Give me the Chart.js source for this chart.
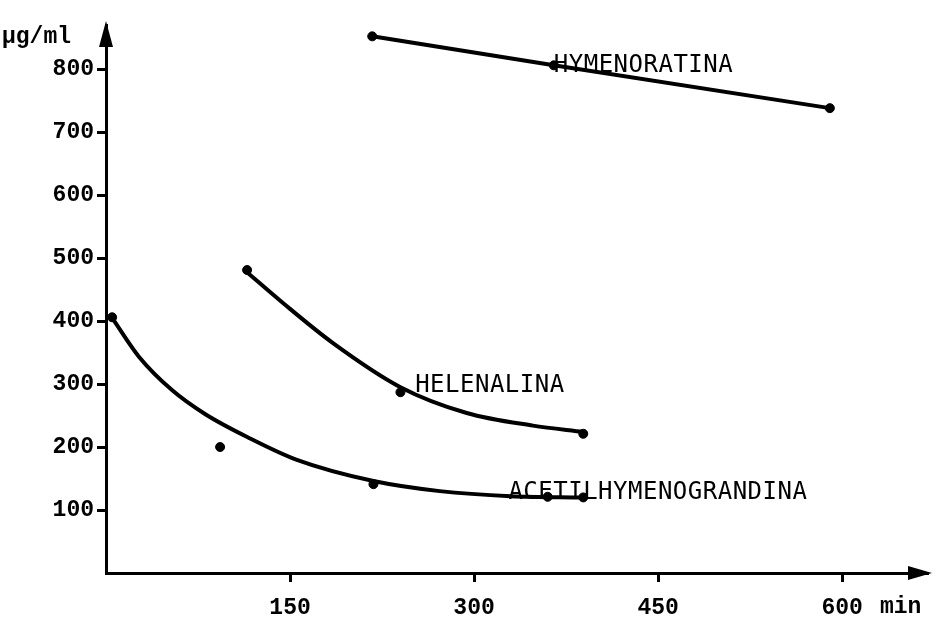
<!DOCTYPE html>
<html>
<head>
<meta charset="utf-8">
<script src="https://cdn.jsdelivr.net/npm/chart.js@4.4.1/dist/chart.umd.min.js"></script>
<style>
  html, body { margin: 0; padding: 0; background: #fff; }
  #wrap { width: 934px; height: 619px; }
</style>
</head>
<body>
<div id="wrap"><canvas id="conc"></canvas></div>
<script>
// tick labels
const xTicks = [150, 300, 450, 600];
const yTicks = [100, 200, 300, 400, 500, 600, 700, 800];

// measured points (min, µg/ml)
const hymenoratina = [{x: 217, y: 852}, {x: 365, y: 806}, {x: 590, y: 738}];
const helenalina = [{x: 115, y: 481}, {x: 240, y: 287}, {x: 389, y: 221}];
const acetilPoints = [{x: 5, y: 406}, {x: 93, y: 200}, {x: 218, y: 141}, {x: 360, y: 121}, {x: 389, y: 120}];

// hand-drawn fitted curves
const helenalinaCurve = [{x: 114, y: 479}, {x: 144, y: 429}, {x: 185, y: 365}, {x: 240, y: 295}, {x: 294, y: 254}, {x: 348, y: 234}, {x: 389, y: 224}];
const acetilCurve = [{x: 5, y: 405}, {x: 27, y: 343}, {x: 54, y: 290}, {x: 81, y: 252}, {x: 117, y: 214}, {x: 155, y: 180}, {x: 218, y: 146}, {x: 272, y: 130}, {x: 330, y: 122}, {x: 389, y: 120}];

// series names, anchored in data units (left edge, middle of text)
const seriesLabels = [
    {text: 'HYMENORATINA', x: 365, y: 806},
    {text: 'HELENALINA', x: 252, y: 298},
    {text: 'ACETILHYMENOGRANDINA', x: 328, y: 127}
];

const monoBold = {family: "'Liberation Mono', 'DejaVu Sans Mono', monospace", size: 23, weight: 'bold'};

// arrows, axis units and series names
const extras = {
    id: 'extras',
    afterDraw(chart) {
        const ctx = chart.ctx;
        const a = chart.chartArea;
        const xs = chart.scales.x, ys = chart.scales.y;
        ctx.save();
        ctx.fillStyle = '#000';
        // y axis arrow
        ctx.beginPath();
        ctx.moveTo(a.left, a.top - 4);
        ctx.lineTo(a.left - 7, a.top + 22);
        ctx.lineTo(a.left + 7, a.top + 22);
        ctx.closePath();
        ctx.fill();
        // x axis arrow
        ctx.beginPath();
        ctx.moveTo(a.right + 4, a.bottom);
        ctx.lineTo(a.right - 20, a.bottom - 7);
        ctx.lineTo(a.right - 20, a.bottom + 7);
        ctx.closePath();
        ctx.fill();

        ctx.font = "bold 23px 'Liberation Mono', 'DejaVu Sans Mono', monospace";
        ctx.textBaseline = 'middle';
        ctx.textAlign = 'left';
        ctx.fillText('µg/ml', 2, a.top + 12);
        ctx.fillText('min', 880, a.bottom + 34);

        ctx.font = "24px 'DejaVu Sans Mono', monospace";
        ctx.letterSpacing = '0.5px';
        seriesLabels.forEach(l => {
            ctx.fillText(l.text, xs.getPixelForValue(l.x), ys.getPixelForValue(l.y));
        });
        ctx.restore();
    }
};

const marker = {showLine: false, backgroundColor: '#000', borderColor: '#000', pointRadius: 4.5, pointBorderWidth: 1, pointStyle: 'circle'};
const curve = {borderColor: '#000', borderWidth: 4, cubicInterpolationMode: 'monotone', pointRadius: 0};

new Chart(document.getElementById('conc'), {
    type: 'line',
    data: {
        datasets: [
            {label: 'HYMENORATINA', data: hymenoratina, borderColor: '#000', backgroundColor: '#000', borderWidth: 4, tension: 0, pointRadius: 4.5, pointBorderWidth: 1},
            {label: 'HELENALINA curve', data: helenalinaCurve, ...curve},
            {label: 'HELENALINA', data: helenalina, ...marker},
            {label: 'ACETILHYMENOGRANDINA curve', data: acetilCurve, ...curve},
            {label: 'ACETILHYMENOGRANDINA', data: acetilPoints, ...marker}
        ]
    },
    options: {
        responsive: true,
        maintainAspectRatio: false,
        animation: false,
        layout: {padding: {top: 25, right: 6, left: 0, bottom: 0}},
        plugins: {
            legend: {display: false},
            tooltip: {enabled: false}
        },
        scales: {
            x: {
                type: 'linear',
                min: 0,
                max: 670,
                afterBuildTicks: s => { s.ticks = xTicks.map(v => ({value: v})); },
                afterFit: s => { s.height = 46; },
                border: {display: true, color: '#000', width: 3},
                grid: {drawOnChartArea: false, drawTicks: true, tickLength: 9, tickWidth: 3, color: '#000'},
                ticks: {color: '#000', font: monoBold, padding: 12, maxRotation: 0}
            },
            y: {
                min: 0,
                max: 870,
                afterBuildTicks: s => { s.ticks = yTicks.map(v => ({value: v})); },
                afterFit: s => { s.width = 106; },
                border: {display: true, color: '#000', width: 3},
                grid: {drawOnChartArea: false, drawTicks: true, tickLength: 9, tickWidth: 3, color: '#000'},
                ticks: {color: '#000', font: monoBold, padding: 3}
            }
        }
    },
    plugins: [extras]
});
</script>
</body>
</html>
